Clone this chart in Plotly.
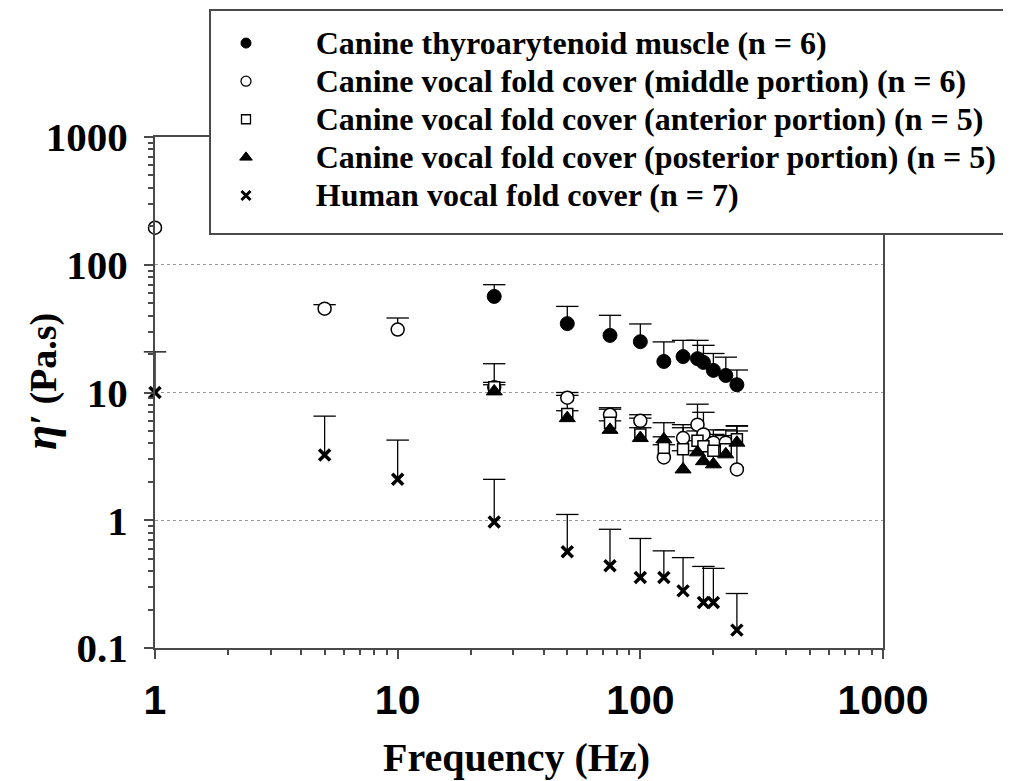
import plotly.graph_objects as go

# ---- data ----
freq_canine = [25, 50, 75, 100, 125, 150, 172, 182, 200, 225, 250]

muscle = [56.5, 34.6, 28.0, 25.0, 17.5, 19.1, 18.4, 17.2, 14.9, 13.6, 11.5]
muscle_sd = [13.3, 12.6, 12.2, 9.4, 7.4, 6.5, 7.2, 6.2, 5.3, 5.3, 3.5]

freq_middle = [1, 5, 10, 25, 50, 75, 100, 125, 150, 172, 182, 200, 225, 250]
middle = [195, 45.3, 31.1, 11.0, 9.1, 6.7, 6.0, 3.1, 4.4, 5.6, 4.7, 4.05, 4.05, 2.5]
middle_sd = [None, 3.4, 7.2, 5.8, 0.9, 0.9, 0.7, 0.8, 1.2, 2.5, 2.3, 1.05, 1.05, 3.0]

anterior = [11.0, 6.8, 5.8, 4.7, 3.7, 3.6, 4.2, 3.8, 3.5, 3.6, 4.3]
anterior_sd = [1.0, 2.7, 1.6, 1.6, 0.8, 1.7, 0.8, 0.7, 1.2, 1.0, 0.7]

posterior = [10.2, 6.3, 5.1, 4.4, 4.3, 2.5, 3.4, 2.9, 2.74, 3.28, 4.05]
posterior_sd = [1.3, 0.9, 0.9, 0.9, 1.5, 1.0, 0.8, 1.0, 1.1, 0.8, 1.4]

freq_human = [1, 5, 10, 25, 50, 75, 100, 125, 150, 182, 200, 250]
human = [10.0, 3.24, 2.09, 0.97, 0.566, 0.44, 0.356, 0.356, 0.28, 0.227, 0.227, 0.138]
human_sd = [10.8, 3.29, 2.15, 1.12, 0.544, 0.41, 0.364, 0.22, 0.23, 0.208, 0.193, 0.129]

names = [
    "Canine thyroarytenoid muscle (n = 6)",
    "Canine vocal fold cover (middle portion) (n = 6)",
    "Canine vocal fold cover (anterior portion) (n = 5)",
    "Canine vocal fold cover (posterior portion) (n = 5)",
    "Human vocal fold cover (n = 7)",
]

x_ticks = [1, 10, 100, 1000]
x_ticktext = ["1", "10", "100", "1000"]
y_ticks = [0.1, 1, 10, 100, 1000]
y_ticktext = ["0.1", "1", "10", "100", "1000"]

SERIF = "Liberation Serif"
SANS = "Liberation Sans"
AXC = "#4a4a4a"

styles = [
    dict(symbol="circle", size=14, color="black", line=dict(color="black", width=1)),
    dict(symbol="circle", size=13, color="white", line=dict(color="black", width=1.5)),
    dict(symbol="square", size=11, color="white", line=dict(color="black", width=1.5)),
    dict(symbol="triangle-up", size=14, color="black", line=dict(color="black", width=1)),
    dict(symbol="x-thin", size=11, color="black", line=dict(color="black", width=3.5)),
]
legend_styles = [
    dict(symbol="circle", size=10, color="black", line=dict(color="black", width=1)),
    dict(symbol="circle", size=10, color="white", line=dict(color="black", width=1.3)),
    dict(symbol="square", size=9, color="white", line=dict(color="black", width=1.3)),
    dict(symbol="triangle-up", size=11, color="black", line=dict(color="black", width=1)),
    dict(symbol="x-thin", size=9, color="black", line=dict(color="black", width=3)),
]

series = [
    (freq_canine, muscle, muscle_sd),
    (freq_middle, middle, middle_sd),
    (freq_canine, anterior, anterior_sd),
    (freq_canine, posterior, posterior_sd),
    (freq_human, human, human_sd),
]

fig = go.Figure()

# upper error bars (stem + cap), drawn first so markers sit on top
for fx, fy, sd in series:
    sx, sy, cx, cy = [], [], [], []
    for f, v, s in zip(fx, fy, sd):
        if s is None:
            continue
        sx += [f, f, None]
        sy += [v, v + s, None]
        cx.append(f)
        cy.append(v + s)
    fig.add_trace(go.Scatter(x=sx, y=sy, mode="lines", line=dict(color="black", width=1.3),
                             showlegend=False, hoverinfo="skip", cliponaxis=False))
    fig.add_trace(go.Scatter(x=cx, y=cy, mode="markers", showlegend=False, hoverinfo="skip",
                             cliponaxis=False,
                             marker=dict(symbol="line-ew-open", size=16, color="black",
                                         line=dict(color="black", width=1.3))))

for (fx, fy, sd), st, nm in zip(series, styles, names):
    fig.add_trace(go.Scatter(x=fx, y=fy, mode="markers", marker=st, name=nm,
                             showlegend=False, cliponaxis=False))

pad = "\u00a0" * 5
for st, nm in zip(legend_styles, names):
    fig.add_trace(go.Scatter(x=[None], y=[None], mode="markers", marker=st,
                             name=pad + '<span style="font-size:32px">' + nm + "</span>",
                             showlegend=True))

minor_x = [m * 10 ** e for e in range(0, 3) for m in range(2, 10)]
minor_y = [m * 10 ** e for e in range(-1, 3) for m in range(2, 10)]

# figure sits 8px inside the page (body margin): plot area is page x 155-883, y 137-648
PL, PT, PW, PH = 147, 129, 728, 511


def px(xpage):
    return (xpage - 8 - PL) / PW


def py(ypage):
    return (PT + PH - (ypage - 8)) / PH


fig.update_layout(
    width=1003, height=773,
    margin=dict(l=PL, r=1003 - PL - PW, t=PT, b=773 - PT - PH, autoexpand=False),
    paper_bgcolor="white", plot_bgcolor="white",
    showlegend=True,
    legend=dict(
        x=px(210), y=py(19), xanchor="left", yanchor="top",
        bgcolor="rgba(0,0,0,0)", borderwidth=0,
        font=dict(family=SERIF, size=27, color="black", weight="bold"),
        itemwidth=62, traceorder="normal",
    ),
    shapes=[
        dict(type="rect", xref="paper", yref="paper",
             x0=px(210), x1=px(1020), y0=py(234), y1=py(10),
             line=dict(color=AXC, width=2), fillcolor="white", layer="above"),
    ],
    xaxis=dict(
        type="log", range=[0, 3],
        tickvals=x_ticks, ticktext=x_ticktext,
        tickfont=dict(family=SANS, size=41, color="black", weight="bold"),
        ticks="outside", ticklen=9, tickwidth=2, tickcolor=AXC,
        ticklabelstandoff=6,
        showline=True, linecolor=AXC, linewidth=2, mirror=True,
        showgrid=False, zeroline=False,
        minor=dict(tickmode="array", tickvals=minor_x, ticks="outside", ticklen=5,
                   tickwidth=1.5, tickcolor=AXC, showgrid=False),
    ),
    yaxis=dict(
        type="log", range=[-1, 3],
        tickvals=y_ticks, ticktext=y_ticktext,
        tickfont=dict(family=SERIF, size=41, color="black", weight="bold"),
        ticks="outside", ticklen=9, tickwidth=2, tickcolor=AXC,
        ticklabelstandoff=8,
        showline=True, linecolor=AXC, linewidth=2, mirror=True,
        showgrid=True, gridcolor="#9a9a9a", griddash="dot", gridwidth=1,
        zeroline=False,
        minor=dict(tickmode="array", tickvals=minor_y, ticks="outside", ticklen=5,
                   tickwidth=1.5, tickcolor=AXC, showgrid=False),
    ),
    annotations=[
        dict(text="Frequency (Hz)", xref="paper", yref="paper",
             x=px(516), y=py(757), xanchor="center", yanchor="middle", showarrow=False,
             font=dict(family=SERIF, size=40, color="black", weight="bold")),
        dict(text='<i><span style="font-size:46px">η</span></i>′ (Pa.s)',
             xref="paper", yref="paper",
             x=px(40), y=py(382), xanchor="center", yanchor="middle", showarrow=False,
             textangle=-90,
             font=dict(family=SERIF, size=38, color="black", weight="bold")),
    ],
)

fig.write_html("out.html")
